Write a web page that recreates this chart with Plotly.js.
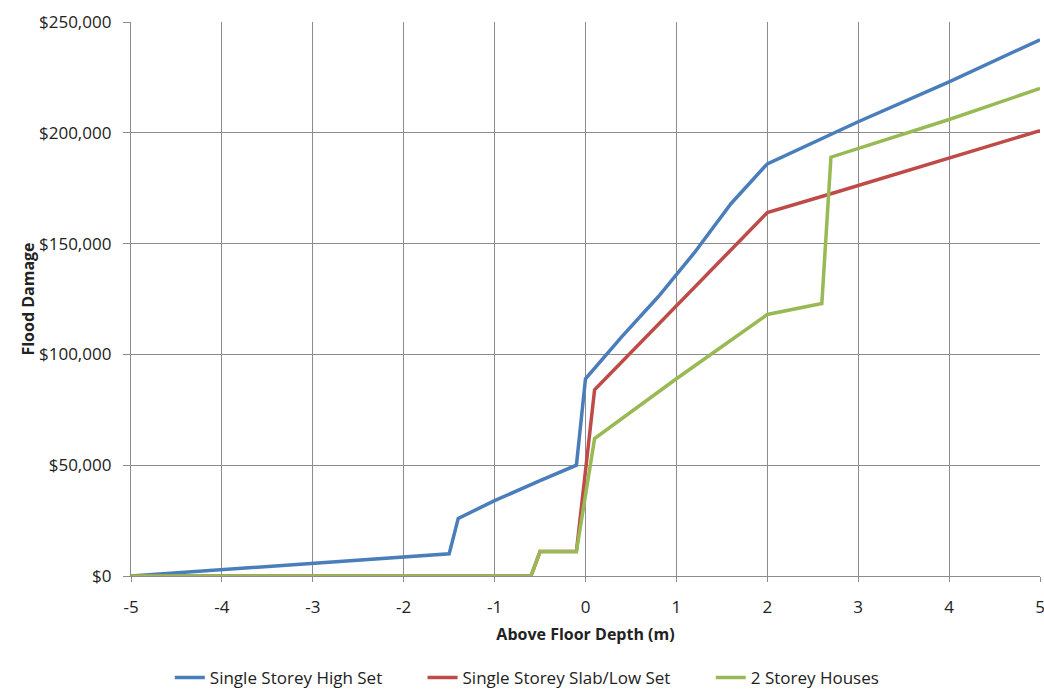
<!DOCTYPE html>
<html>
<head>
<meta charset="utf-8">
<script src="https://cdn.plot.ly/plotly-3.0.1.min.js"></script>
<style>html,body{margin:0;padding:0;background:#fff;}#chart{width:1044px;height:690px;}</style>
</head>
<body>
<div id="chart"></div>
<script>
// Single Storey High Set
const highSetX = [-5, -1.5, -1.4, -1.0, -0.5, -0.1, 0.0, 0.4, 0.8, 1.2, 1.6, 2.0, 3.0, 4.0, 5.0];
const highSetY = [0, 10000, 26000, 34000, 43000, 50000, 89000, 108000, 126000, 146000, 168000, 186000, 205000, 223000, 242000];
// Single Storey Slab/Low Set
const slabX = [-5, -0.6, -0.5, -0.1, 0.1, 1.0, 2.0, 2.7, 5.0];
const slabY = [0, 0, 11000, 11000, 84000, 122000, 164000, 172500, 201000];
// 2 Storey Houses
const twoStoreyX = [-5, -0.6, -0.5, -0.1, 0.1, 1.0, 2.0, 2.6, 2.7, 4.0, 5.0];
const twoStoreyY = [0, 0, 11000, 11000, 62000, 89000, 118000, 123000, 189000, 206000, 220000];

const seriesNames = ["Single Storey High Set", "Single Storey Slab/Low Set", "2 Storey Houses"];
const xTicks = [-5, -4, -3, -2, -1, 0, 1, 2, 3, 4, 5];
const yTicks = [0, 50000, 100000, 150000, 200000, 250000];
const yTickText = ["$0", "$50,000", "$100,000", "$150,000", "$200,000", "$250,000"];

const font = "Open Sans, Liberation Sans, sans-serif";
const pad = "\u00a0".repeat(8);
const data = [
  {x: highSetX, y: highSetY, name: seriesNames[0] + pad, mode: "lines", line: {color: "#4a7ebb", width: 3.5}},
  {x: slabX, y: slabY, name: seriesNames[1] + pad, mode: "lines", line: {color: "#be4b48", width: 3.5}},
  {x: twoStoreyX, y: twoStoreyY, name: seriesNames[2], mode: "lines", line: {color: "#98b954", width: 3.5}}
];
const layout = {
  width: 1044, height: 690,
  margin: {l: 131, r: 4, t: 22, b: 114, autoexpand: false},
  paper_bgcolor: "#fff", plot_bgcolor: "#fff",
  font: {family: font, color: "#222", size: 16},
  showlegend: true,
  legend: {orientation: "h", x: 0.436, xanchor: "center", y: -0.184, yanchor: "middle",
           font: {family: font, size: 17, color: "#222"}, itemwidth: 30, tracegroupgap: 0},
  xaxis: {
    range: [-5, 5], tickvals: xTicks, ticktext: xTicks.map(String),
    showgrid: true, gridcolor: "#8c8c8c", gridwidth: 1.3,
    showline: true, linecolor: "#8c8c8c", linewidth: 1.3, mirror: false,
    ticks: "outside", ticklen: 5, tickcolor: "#8c8c8c",
    ticklabeloverflow: "allow", ticklabelstandoff: 10,
    zeroline: false, tickfont: {size: 17, family: font},
    title: {text: "<b>Above Floor Depth (m)</b>", font: {size: 16, family: font}, standoff: 12}
  },
  yaxis: {
    range: [0, 250000], tickvals: yTicks, ticktext: yTickText,
    showgrid: true, gridcolor: "#8c8c8c", gridwidth: 1.3,
    showline: true, linecolor: "#8c8c8c", linewidth: 1.3,
    ticks: "outside", ticklen: 7, tickcolor: "#8c8c8c",
    ticklabelstandoff: 8,
    zeroline: false, tickfont: {size: 17, family: font},
    title: {text: "<b>Flood Damage</b>", font: {size: 16, family: font}, standoff: 0}
  }
};
Plotly.newPlot("chart", data, layout, {displayModeBar: false, responsive: false});
</script>
</body>
</html>
